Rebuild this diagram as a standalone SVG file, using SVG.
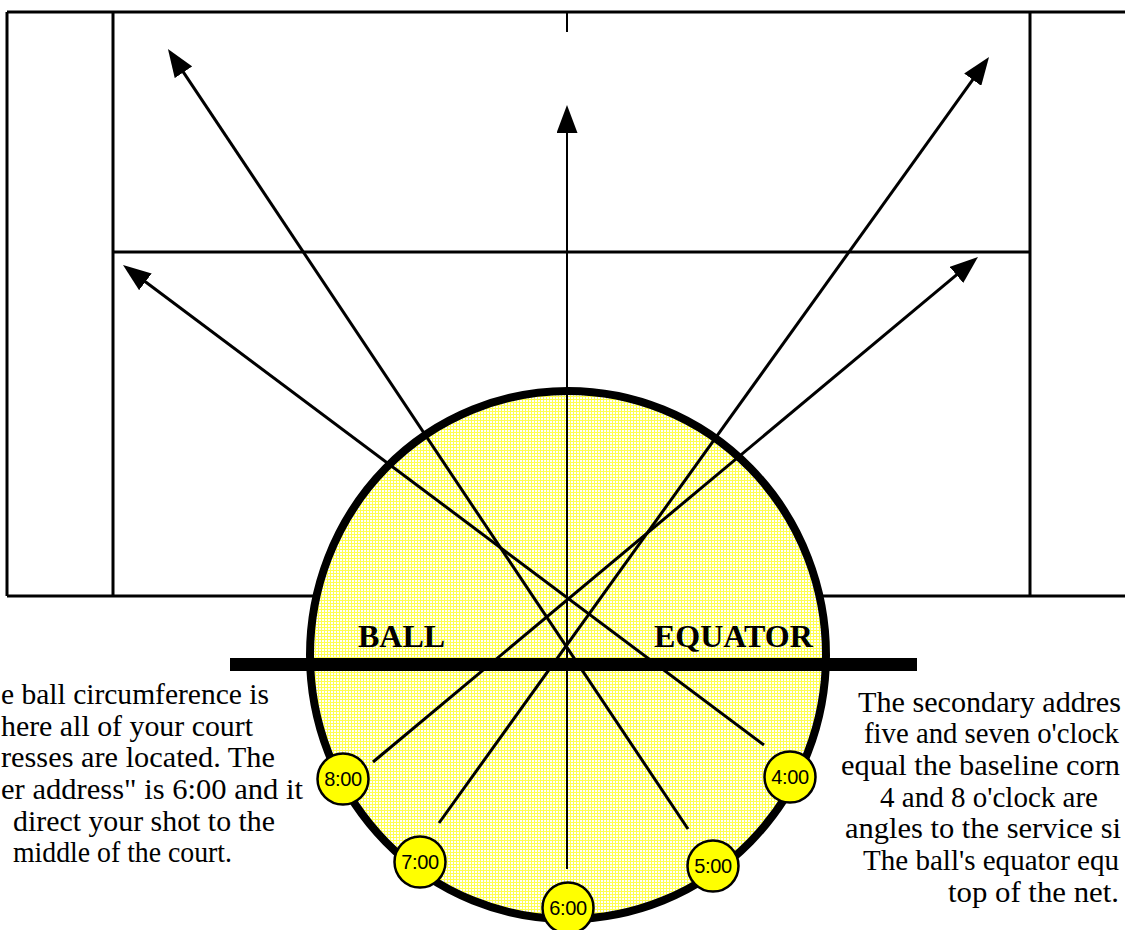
<svg xmlns="http://www.w3.org/2000/svg" width="1125" height="930" viewBox="0 0 1125 930">
<style>
.court{stroke:#000;stroke-width:3;fill:none}
.shot{stroke:#000;stroke-width:3;fill:none;marker-end:url(#ah)}
.body{font-family:"Liberation Serif","Times New Roman",serif;font-size:30px;fill:#000}
.eq{font-family:"Liberation Serif","Times New Roman",serif;font-size:32px;font-weight:bold;fill:#000}
.clk circle{fill:#ffff00;stroke:#000;stroke-width:2.5}
.clk text{font-family:"Liberation Sans",Arial,sans-serif;font-size:20px;letter-spacing:-0.4px;text-anchor:middle;fill:#000}
</style>
<defs>
<marker id="ah" markerUnits="userSpaceOnUse" markerWidth="28" markerHeight="21" viewBox="0 0 28 21" refX="18" refY="10.5" orient="auto">
<path d="M0,0 L28,10.5 L0,21 z" fill="#000"/>
</marker>
<pattern id="dots" width="3" height="3" patternUnits="userSpaceOnUse">
<rect width="3" height="3" fill="#ffffff"/>
<rect width="3" height="1" fill="#ffff50"/>
<rect width="1" height="3" fill="#ffff50"/>
</pattern>
</defs>
<g id="court">
<line class="court" x1="7" y1="12" x2="1125" y2="12"/>
<line class="court" x1="7" y1="596" x2="1125" y2="596"/>
<line class="court" x1="7" y1="12" x2="7" y2="596"/>
<line class="court" x1="113" y1="12" x2="113" y2="596"/>
<line class="court" x1="1030" y1="12" x2="1030" y2="596"/>
<line class="court" x1="113" y1="252" x2="1030" y2="252"/>
<line class="court" x1="567" y1="12" x2="567" y2="32" style="stroke-width:2"/>
</g>
<g id="ball">
<ellipse cx="568" cy="655" rx="258" ry="264" fill="url(#dots)" stroke="#000" stroke-width="8"/>
</g>
<g id="connectors">
<line class="shot" x1="764" y1="745" x2="131" y2="271"/>
<line class="shot" x1="373" y1="762" x2="970.3" y2="263.4"/>
<line class="shot" x1="439" y1="823" x2="983.2" y2="65.1"/>
<line class="shot" x1="688" y1="829" x2="173.5" y2="57.3"/>
<line class="shot" x1="567" y1="869" x2="567" y2="115" style="stroke-width:2"/>
</g>
<g id="equator">
<rect x="230" y="658" width="687" height="13" fill="#000"/>
<text class="eq" x="358" y="647">BALL</text>
<text class="eq" x="654" y="647">EQUATOR</text>
</g>
<g id="clock-8" class="clk"><circle cx="343" cy="779" r="25.5"/><text x="343" y="786">8:00</text></g>
<g id="clock-7" class="clk"><circle cx="420" cy="862" r="25.5"/><text x="420" y="869">7:00</text></g>
<g id="clock-6" class="clk"><circle cx="568" cy="908" r="25.5"/><text x="568" y="915">6:00</text></g>
<g id="clock-5" class="clk"><circle cx="713" cy="866" r="25.5"/><text x="713" y="873">5:00</text></g>
<g id="clock-4" class="clk"><circle cx="790" cy="777" r="25.5"/><text x="790" y="784">4:00</text></g>
<g id="left-note" class="body">
<text x="1" y="704" textLength="268" lengthAdjust="spacingAndGlyphs">e ball circumference is</text>
<text x="1" y="736" textLength="252" lengthAdjust="spacingAndGlyphs">here all of your court</text>
<text x="1" y="767" textLength="274" lengthAdjust="spacingAndGlyphs">resses are located. The</text>
<text x="1" y="799" textLength="302" lengthAdjust="spacingAndGlyphs">er address" is 6:00 and it</text>
<text x="13" y="831" textLength="262" lengthAdjust="spacingAndGlyphs">direct your shot to the</text>
<text x="13" y="862" textLength="219" lengthAdjust="spacingAndGlyphs">middle of the court.</text>
</g>
<g id="right-note" class="body">
<text x="858" y="712" textLength="263" lengthAdjust="spacingAndGlyphs">The secondary addres</text>
<text x="864" y="743" textLength="255" lengthAdjust="spacingAndGlyphs" style="font-size:29px">five and seven o'clock</text>
<text x="841" y="775" textLength="279" lengthAdjust="spacingAndGlyphs">equal the baseline corn</text>
<text x="880" y="807" textLength="218" lengthAdjust="spacingAndGlyphs">4 and 8 o'clock are</text>
<text x="845" y="838" textLength="276" lengthAdjust="spacingAndGlyphs">angles to the service si</text>
<text x="863" y="870" textLength="256" lengthAdjust="spacingAndGlyphs" style="font-size:29px">The ball's equator equ</text>
<text x="948" y="902" textLength="171" lengthAdjust="spacingAndGlyphs">top of the net.</text>
</g>
</svg>
